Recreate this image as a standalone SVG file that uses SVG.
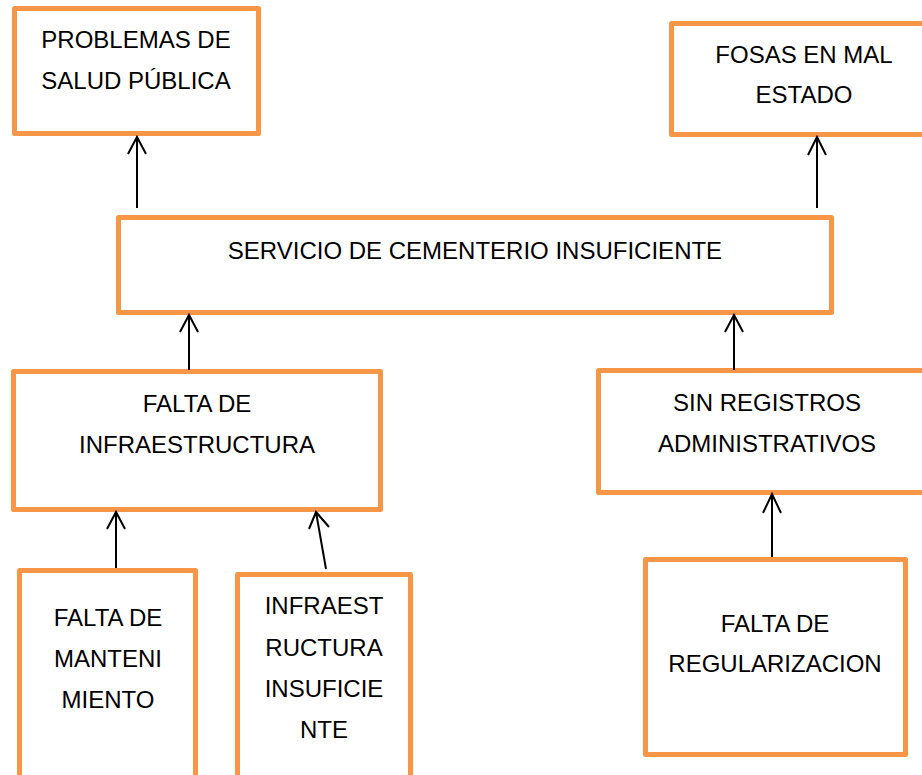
<svg xmlns="http://www.w3.org/2000/svg" width="922" height="775" viewBox="0 0 922 775">
<style>
.box{fill:#fff;stroke:#F79646;stroke-width:5;stroke-linejoin:round}
.t{font-family:"Liberation Sans",Arial,sans-serif;font-size:24px;fill:#000;text-anchor:middle}
.c{fill:none;stroke:#000;stroke-width:2}
</style>
<rect width="922" height="775" fill="#fff"/>
<g id="problemas">
<rect class="box" x="14.5" y="8.5" width="244" height="125"/>
<text class="t" x="136" y="48">PROBLEMAS DE</text>
<text class="t" x="136" y="89">SALUD PÚBLICA</text>
</g>
<g id="fosas">
<rect class="box" x="671.5" y="23.5" width="270" height="111"/>
<text class="t" x="804" y="63">FOSAS EN MAL</text>
<text class="t" x="804" y="103">ESTADO</text>
</g>
<g id="servicio">
<rect class="box" x="118.5" y="217.5" width="713" height="95"/>
<text class="t" x="475" y="259">SERVICIO DE CEMENTERIO INSUFICIENTE</text>
</g>
<g id="falta-infra">
<rect class="box" x="13.5" y="371.5" width="367" height="138"/>
<text class="t" x="197" y="412">FALTA DE</text>
<text class="t" x="197" y="453">INFRAESTRUCTURA</text>
</g>
<g id="sin-registros">
<rect class="box" x="598.5" y="370.5" width="340" height="122"/>
<text class="t" x="767" y="411">SIN REGISTROS</text>
<text class="t" x="767" y="452">ADMINISTRATIVOS</text>
</g>
<g id="mantenimiento">
<rect class="box" x="19.5" y="570.5" width="176" height="220"/>
<text class="t" x="108" y="626">FALTA DE</text>
<text class="t" x="108" y="667">MANTENI</text>
<text class="t" x="108" y="708">MIENTO</text>
</g>
<g id="infra-insuf">
<rect class="box" x="237.5" y="574.5" width="173" height="220"/>
<text class="t" x="324" y="614">INFRAEST</text>
<text class="t" x="324" y="656">RUCTURA</text>
<text class="t" x="324" y="697">INSUFICIE</text>
<text class="t" x="324" y="738">NTE</text>
</g>
<g id="regularizacion">
<rect class="box" x="645.5" y="559.5" width="260" height="195"/>
<text class="t" x="775" y="632">FALTA DE</text>
<text class="t" x="775" y="672">REGULARIZACION</text>
</g>
<g id="connectors">
<path class="c" d="M137 208V137M128 154L137 137L146 154"/>
<path class="c" d="M817 208V137M808 155L817 137L826 155"/>
<path class="c" d="M189 370V315M180 332L189 315L198 332"/>
<path class="c" d="M734 370V315M725 332L734 315L743 332"/>
<path class="c" d="M116 568V512M107 529L116 512L125 529"/>
<path class="c" d="M326 569L316 512M309 529L316 512L329 527"/>
<path class="c" d="M772 557V494M763 513L772 494L781 513"/>
</g>
</svg>
